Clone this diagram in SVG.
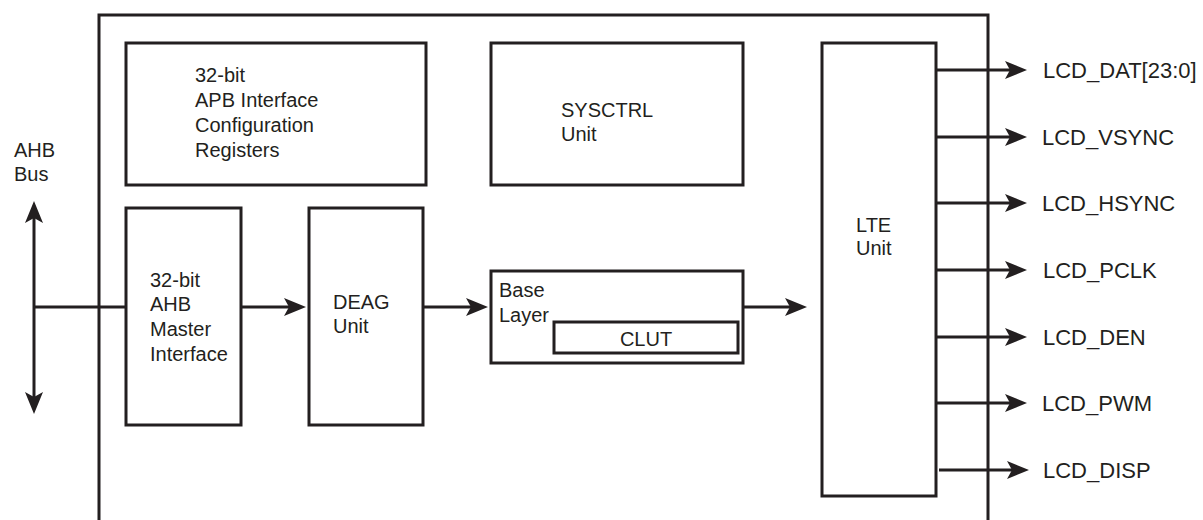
<svg xmlns="http://www.w3.org/2000/svg" width="1203" height="520" viewBox="0 0 1203 520">
<style>
.box{fill:#fff;stroke:#231f20;stroke-width:3}
.ln{fill:none;stroke:#231f20;stroke-width:3}
.t{font-family:"Liberation Sans",Arial,sans-serif;font-size:20px;fill:#231f20}
.s{font-family:"Liberation Sans",Arial,sans-serif;font-size:22px;fill:#231f20}
</style>
<defs>
<marker id="ah" markerUnits="userSpaceOnUse" markerWidth="22" markerHeight="18" refX="14" refY="9" orient="auto-start-reverse" viewBox="0 0 22 18">
<path d="M0,0 L22,9 L0,18 L5,9 z" fill="#231f20"/>
</marker>
</defs>
<rect width="1203" height="520" fill="#fff"/>
<g id="outer"><path class="ln" d="M99,530 V15 H988 V530"/></g>
<g id="ahb-bus"><text class="t" x="14" y="157">AHB</text><text class="t" x="14" y="181">Bus</text></g>
<g id="apb"><rect class="box" x="126" y="43" width="300" height="142"/>
<text class="t" x="195" y="82">32-bit</text><text class="t" x="195" y="107">APB Interface</text><text class="t" x="195" y="132">Configuration</text><text class="t" x="195" y="157">Registers</text></g>
<g id="sysctrl"><rect class="box" x="491" y="43" width="252" height="142"/>
<text class="t" x="561" y="117">SYSCTRL</text><text class="t" x="561" y="141">Unit</text></g>
<g id="ahb-master"><rect class="box" x="126" y="208" width="115" height="217"/>
<text class="t" x="150" y="287">32-bit</text><text class="t" x="150" y="311">AHB</text><text class="t" x="150" y="336">Master</text><text class="t" x="150" y="361">Interface</text></g>
<g id="deag"><rect class="box" x="309" y="208" width="114" height="217"/>
<text class="t" x="333" y="309">DEAG</text><text class="t" x="333" y="333">Unit</text></g>
<g id="base-layer"><rect class="box" x="491" y="271" width="252" height="92"/>
<text class="t" x="499" y="297">Base</text><text class="t" x="499" y="322">Layer</text></g>
<g id="clut"><rect class="box" x="554" y="322" width="184" height="31"/>
<text class="t" x="646" y="346" text-anchor="middle">CLUT</text></g>
<g id="lte"><rect class="box" x="822" y="43" width="114" height="453"/>
<text class="t" x="856" y="232">LTE</text><text class="t" x="856" y="255">Unit</text></g>
<g id="connectors">
<line class="ln" x1="34" y1="209" x2="34" y2="406" marker-start="url(#ah)" marker-end="url(#ah)"/>
<line class="ln" x1="34" y1="307" x2="126" y2="307"/>
<line class="ln" x1="241" y1="307" x2="298" y2="307" marker-end="url(#ah)"/>
<line class="ln" x1="423" y1="307" x2="480" y2="307" marker-end="url(#ah)"/>
<line class="ln" x1="743" y1="307" x2="799" y2="307" marker-end="url(#ah)"/>
<line class="ln" x1="936" y1="70" x2="1019" y2="70" marker-end="url(#ah)"/>
<line class="ln" x1="936" y1="137" x2="1019" y2="137" marker-end="url(#ah)"/>
<line class="ln" x1="936" y1="203" x2="1019" y2="203" marker-end="url(#ah)"/>
<line class="ln" x1="936" y1="270" x2="1019" y2="270" marker-end="url(#ah)"/>
<line class="ln" x1="936" y1="337" x2="1019" y2="337" marker-end="url(#ah)"/>
<line class="ln" x1="936" y1="403" x2="1019" y2="403" marker-end="url(#ah)"/>
<line class="ln" x1="939" y1="470" x2="1021" y2="470" marker-end="url(#ah)"/>
</g>
<g id="signals">
<text class="s" x="1043" y="78">LCD_DAT[23:0]</text>
<text class="s" x="1042" y="145">LCD_VSYNC</text>
<text class="s" x="1042" y="211">LCD_HSYNC</text>
<text class="s" x="1043" y="278">LCD_PCLK</text>
<text class="s" x="1043" y="345">LCD_DEN</text>
<text class="s" x="1042" y="411">LCD_PWM</text>
<text class="s" x="1043" y="478">LCD_DISP</text>
</g>
</svg>
